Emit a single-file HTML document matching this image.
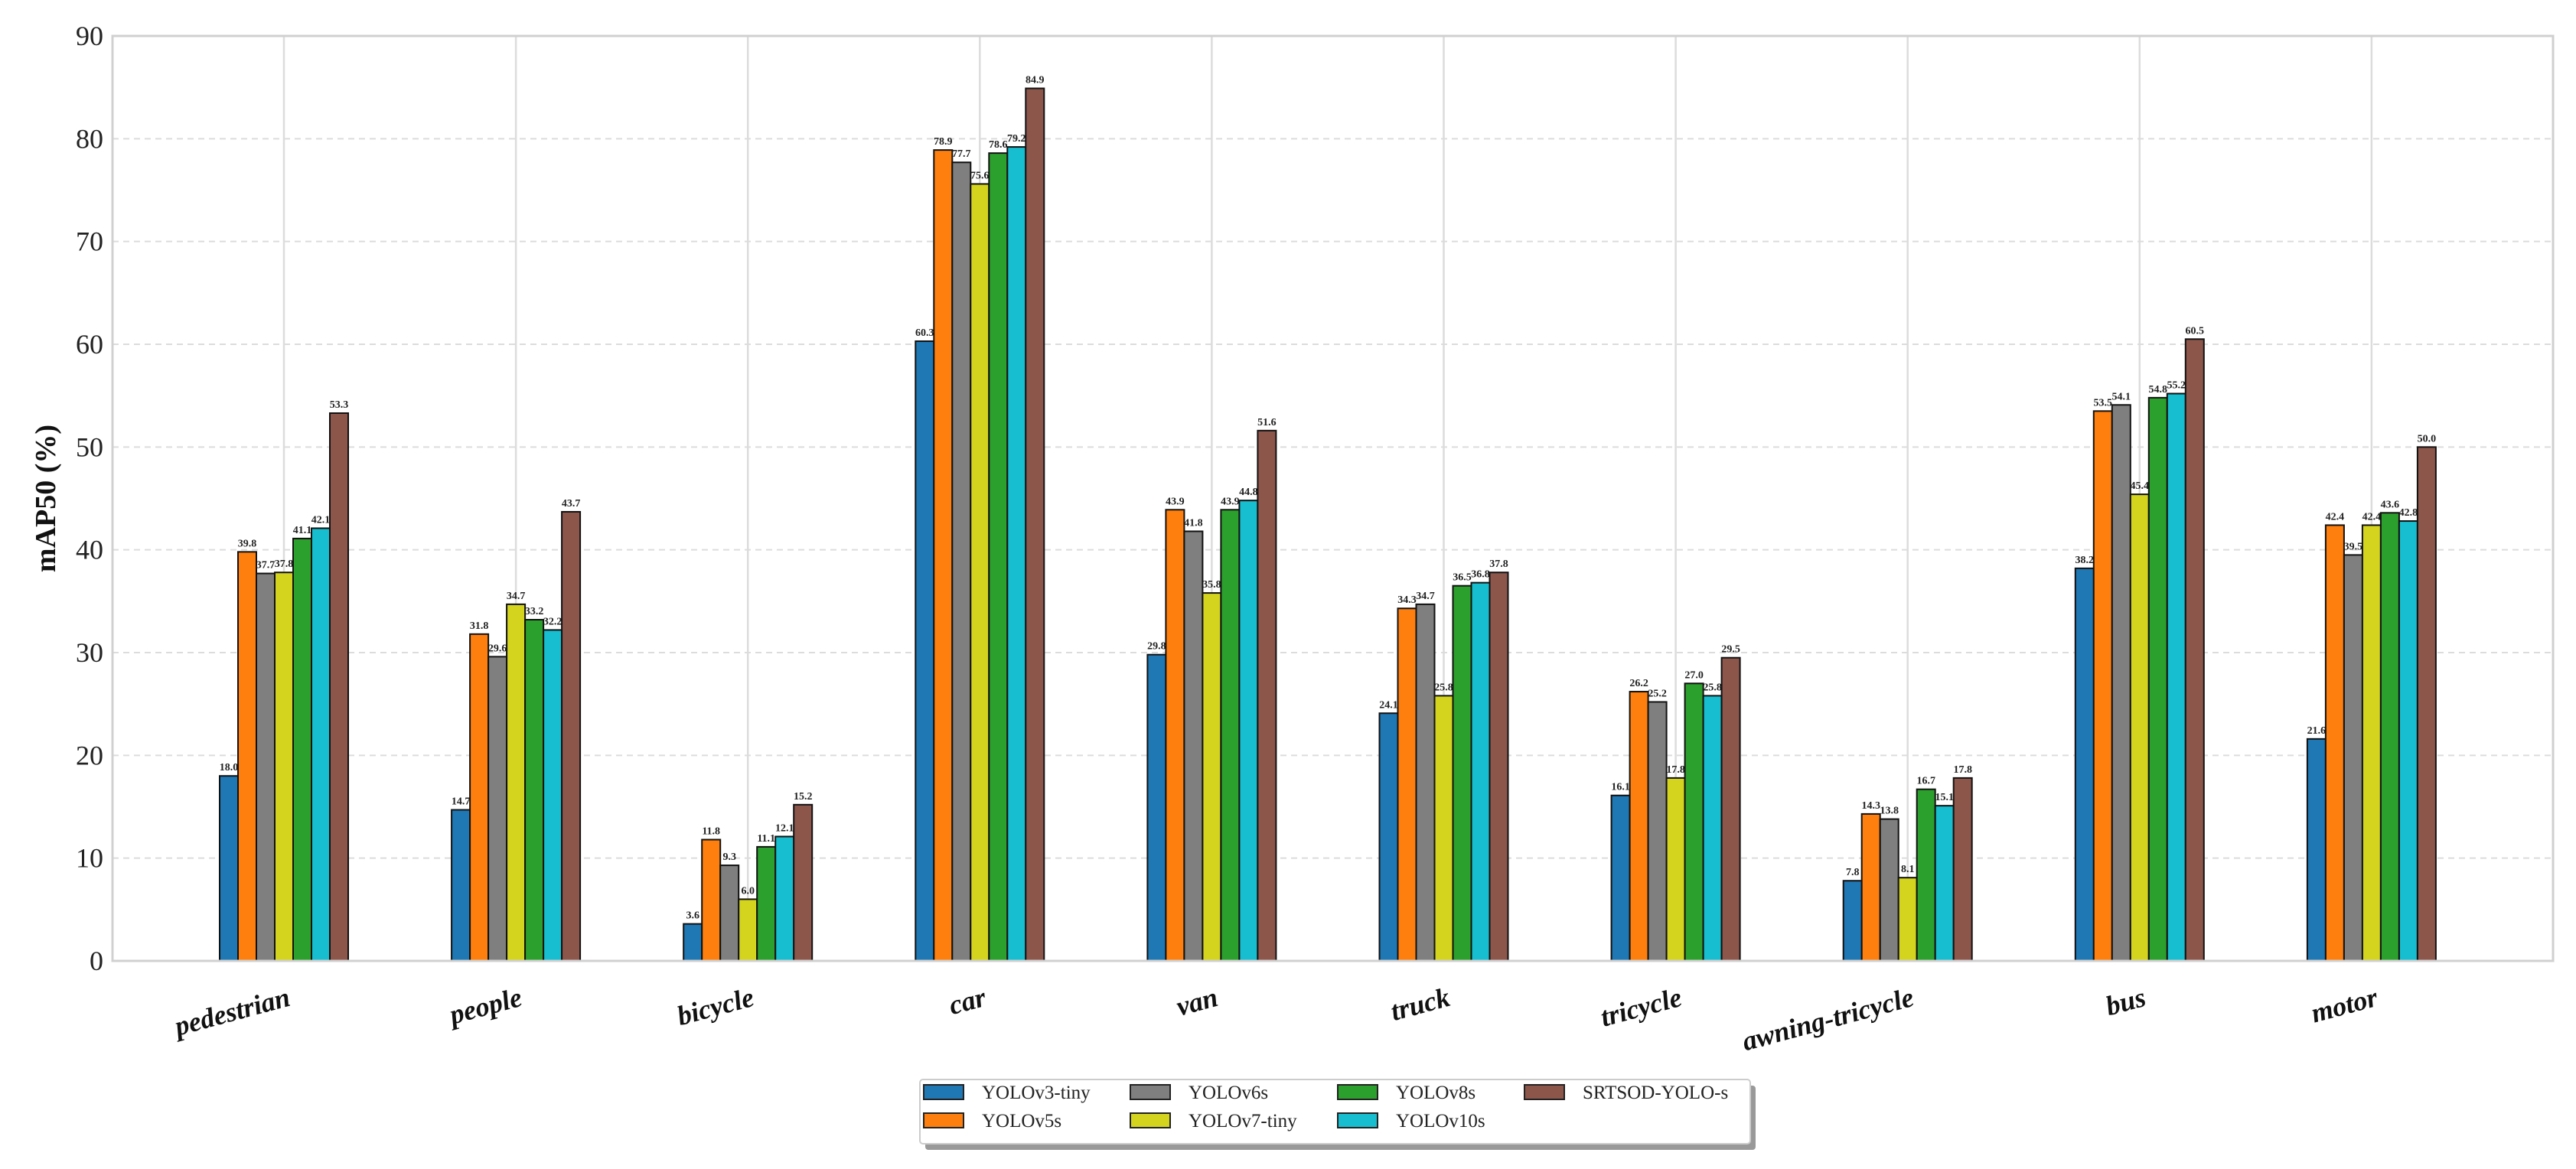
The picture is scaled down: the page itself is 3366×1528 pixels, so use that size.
<!DOCTYPE html>
<html><head><meta charset="utf-8"><style>
html,body{margin:0;padding:0;background:#fff;}
svg{display:block;font-family:"Liberation Serif",serif;}
</style></head><body>
<svg id="chart" width="3366" height="1528" viewBox="0 0 3366 1528"></svg>
<script>
const categories=["pedestrian","people","bicycle","car","van","truck","tricycle","awning-tricycle","bus","motor"];
const seriesNames=["YOLOv3-tiny","YOLOv5s","YOLOv6s","YOLOv7-tiny","YOLOv8s","YOLOv10s","SRTSOD-YOLO-s"];
const yolov3tiny=[18.0,14.7,3.6,60.3,29.8,24.1,16.1,7.8,38.2,21.6];
const yolov5s=[39.8,31.8,11.8,78.9,43.9,34.3,26.2,14.3,53.5,42.4];
const yolov6s=[37.7,29.6,9.3,77.7,41.8,34.7,25.2,13.8,54.1,39.5];
const yolov7tiny=[37.8,34.7,6.0,75.6,35.8,25.8,17.8,8.1,45.4,42.4];
const yolov8s=[41.1,33.2,11.1,78.6,43.9,36.5,27.0,16.7,54.8,43.6];
const yolov10s=[42.1,32.2,12.1,79.2,44.8,36.8,25.8,15.1,55.2,42.8];
const srtsod=[53.3,43.7,15.2,84.9,51.6,37.8,29.5,17.8,60.5,50.0];
const yTicks=[0,10,20,30,40,50,60,70,80,90];
const series=[yolov3tiny,yolov5s,yolov6s,yolov7tiny,yolov8s,yolov10s,srtsod];
const colors=["#1f77b4","#ff7f0e","#7f7f7f","#d4d41f","#2ca02c","#17becf","#8c564b"];

const svg=document.getElementById('chart');
const NS="http://www.w3.org/2000/svg";
function mk(tag,attrs,parent){const e=document.createElementNS(NS,tag);for(const k in attrs)e.setAttribute(k,attrs[k]);(parent||svg).appendChild(e);return e;}
const L=147,R=3336,T=47,B=1256;
const yMax=90;
function y(v){return B-(v/yMax)*(B-T);}
const step=303.1, x0=371;
function x(i){return x0+i*step;}
const bw=24;

yTicks.forEach(t=>{
  if(t>0&&t<90){const g=mk('line',{x1:L,x2:R,y1:y(t),y2:y(t),stroke:'#dcdcdc','stroke-width':2,'stroke-dasharray':'8,6'});
  }
  const tl=mk('text',{x:L-12,y:y(t)+12,'text-anchor':'end','font-size':36,fill:'#222'});
  tl.textContent=t;
  
});
categories.forEach((c,i)=>{
  const g=mk('line',{x1:x(i),x2:x(i),y1:T,y2:B,stroke:'#dcdcdc','stroke-width':2.5});
  
});
series.forEach((s,k)=>{
  s.forEach((v,i)=>{
    const bx=x(i)+(k-3.5)*bw;
    const r=mk('rect',{x:bx,y:y(v),width:bw,height:B-y(v),fill:colors[k],stroke:'#111','stroke-width':2});
    
    
    const t=mk('text',{x:bx+bw/2,y:y(v)-7,'text-anchor':'middle','font-size':14,'font-weight':'bold',fill:'#222'});
    t.textContent=v.toFixed(1);
    
    
  });
});
const fr=mk('rect',{x:L,y:T,width:R-L,height:B-T,fill:'none',stroke:'#d0d0d0','stroke-width':3});

categories.forEach((c,i)=>{
  const tx=x(i)+10, ty=B+58;
  const t=mk('text',{x:tx,y:ty,'text-anchor':'end','font-size':36,'font-weight':'bold','font-style':'italic',fill:'#111',transform:`rotate(-15 ${tx} ${ty})`});
  t.textContent=c;
  
  
});
const yt=mk('text',{x:0,y:0,'text-anchor':'middle','font-size':38,'font-weight':'bold',fill:'#111',transform:`translate(72 ${(T+B)/2}) rotate(-90)`});
yt.textContent="mAP50 (%)";

const lg=mk('g',{});

mk('rect',{x:1209,y:1419,width:1085,height:84,fill:'#999',rx:4},lg);
mk('rect',{x:1202,y:1411,width:1085,height:84,fill:'#fff',stroke:'#ccc','stroke-width':2,rx:4},lg);
const colX=[1207,1477,1748,1992], rowY=[1418,1455];
seriesNames.forEach((n,k)=>{
  const col=Math.floor(k/2), row=k%2;
  const e=mk('g',{},lg);
  
  mk('rect',{x:colX[col],y:rowY[row],width:52,height:19,fill:colors[k],stroke:'#222','stroke-width':2},e);
  const t=mk('text',{x:colX[col]+76,y:rowY[row]+18,'font-size':25,fill:'#222'},e);
  t.textContent=n;
});
</script>
</body></html>
